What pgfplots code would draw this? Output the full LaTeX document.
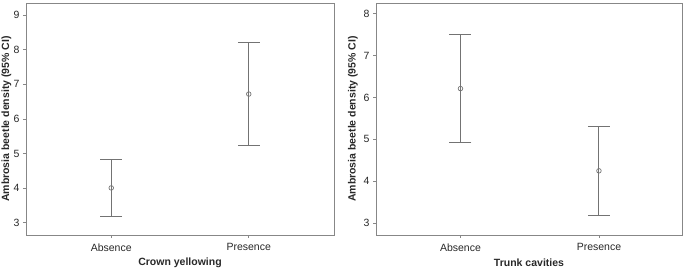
\documentclass[border=0pt]{standalone}
\usepackage{pgfplots}
\pgfplotsset{compat=1.18}
\usepackage{fontspec}
\setmainfont{Liberation Sans}
\definecolor{framec}{RGB}{135,135,135}
\definecolor{barc}{RGB}{115,115,115}
\definecolor{txtc}{RGB}{40,40,40}
\pgfplotsset{
  ebstyle/.style={
    scale only axis, width=308pt, height=232pt,
    xmin=0.38, xmax=2.62,
    xtick={1,2}, xticklabels={Absence,Presence},
    tick align=outside, xtick pos=lower, ytick pos=left,
    major tick length=3pt,
    axis line style={framec, line width=0.9pt},
    tick style={framec, line width=0.8pt},
    font=\fontsize{10.5}{12}\selectfont,
    /pgf/number format/assume math mode=true,
    ticklabel style={text=txtc, font=\fontsize{10.5}{12}\selectfont},
    label style={text=txtc, font=\fontsize{10.5}{12}\selectfont\bfseries},
    xticklabel style={yshift=-2pt},
    xlabel style={at={(axis description cs:0.5,0)}, anchor=center, yshift=-28pt},
  },
  ebplot/.style={
    barc, line width=0.9pt, only marks,
    mark=o, mark size=2.3pt, mark options={barc, line width=0.7pt},
    error bars/.cd, y dir=both, y explicit,
    error mark=-, error mark options={rotate=90, barc, line width=0.9pt, mark size=11pt},
    error bar style={barc, line width=0.9pt},
  },
}
\pgfplotstableread{
x y ep em
1 4.01 0.81 0.83
2 6.72 1.50 1.48
}\crown
\pgfplotstableread{
x y ep em
1 6.21 1.29 1.28
2 4.25 1.05 1.06
}\trunk
\begin{document}
\begin{tikzpicture}
\path[use as bounding box] (-26pt,-35pt) rectangle (659pt,235pt);
\begin{axis}[ebstyle, at={(0pt,0pt)}, anchor=origin,
  ymin=2.65, ymax=9.35, ytick={3,4,5,6,7,8,9},
  xlabel={Crown yellowing},
  ylabel={Ambrosia beetle density (95\% CI)},
  ylabel style={at={(axis description cs:0,0.5)}, anchor=center, yshift=19.7pt},
]
\addplot+[ebplot] table[x=x, y=y, y error plus=ep, y error minus=em] {\crown};
\end{axis}
\begin{axis}[ebstyle, at={(350pt,0pt)}, anchor=origin, width=306pt,
  ymin=2.72, ymax=8.25, ytick={3,4,5,6,7,8},
  xmin=0.39, xmax=2.60,
  xlabel={Trunk cavities},
  ylabel={Ambrosia beetle density (95\% CI)},
  ylabel style={at={(axis description cs:0,0.5)}, anchor=center, yshift=23pt},
]
\addplot+[ebplot] table[x=x, y=y, y error plus=ep, y error minus=em] {\trunk};
\end{axis}
\end{tikzpicture}
\end{document}
